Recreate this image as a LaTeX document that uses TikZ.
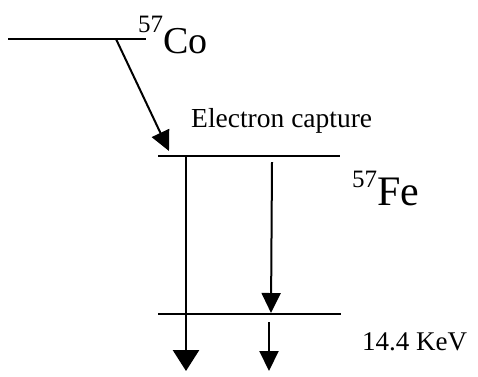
\documentclass[tikz,border=0pt]{standalone}
\usepackage{fontspec}
\setmainfont{Liberation Serif}
\usetikzlibrary{arrows.meta}

\tikzset{
    level/.style={line width=2pt},
    decay/.style={line width=2pt, -{Triangle[length=20pt, width=19pt]}},
    label/.style={anchor=base west, inner sep=0pt}
}

\begin{document}
\begin{tikzpicture}[x=1pt, y=-1pt]
    \useasboundingbox (0,0) rectangle (478,376);

    % Livelli
    \coordinate (co-l) at (8,39);
    \coordinate (co-r) at (146,39);
    \coordinate (fe-l) at (158,156);
    \coordinate (fe-r) at (340,156);
    \coordinate (gs-l) at (158,314);
    \coordinate (gs-r) at (341,314);
    \draw[level] (co-l) -- (co-r);
    \draw[level] (fe-l) -- (fe-r);
    \draw[level] (gs-l) -- (gs-r);

    % Frecce
    \coordinate (cap-a) at (116,39);
    \coordinate (cap-b) at (169,151);
    \coordinate (g1-a) at (186,156);
    \coordinate (g1-b) at (186,371);
    \coordinate (g2-a) at (272,162);
    \coordinate (g2-b) at (271,313);
    \coordinate (g3-a) at (269,322);
    \coordinate (g3-b) at (269,371);
    \draw[decay] (cap-a) -- (cap-b);
    \draw[decay, line width=2.8pt, -{Triangle[length=21pt, width=26pt]}] (g1-a) -- (g1-b);
    \draw[decay] (g2-a) -- (g2-b);
    \draw[decay] (g3-a) -- (g3-b);

    % Etichette
    \node[label] (co) at (138,53)
        {{\fontsize{25}{25}\selectfont\raisebox{21pt}{57}}{\fontsize{38}{40}\selectfont Co}};
    \node[label] (ec) at (191,127) {\fontsize{27.5}{30}\selectfont Electron capture};
    \node[label] (fe) at (352,205)
        {{\fontsize{25}{25}\selectfont\raisebox{18pt}{57}}{\fontsize{42}{44}\selectfont Fe}};
    \node[label] (en) at (362,350) {\fontsize{27}{30}\selectfont 14.4 KeV};
\end{tikzpicture}
\end{document}
